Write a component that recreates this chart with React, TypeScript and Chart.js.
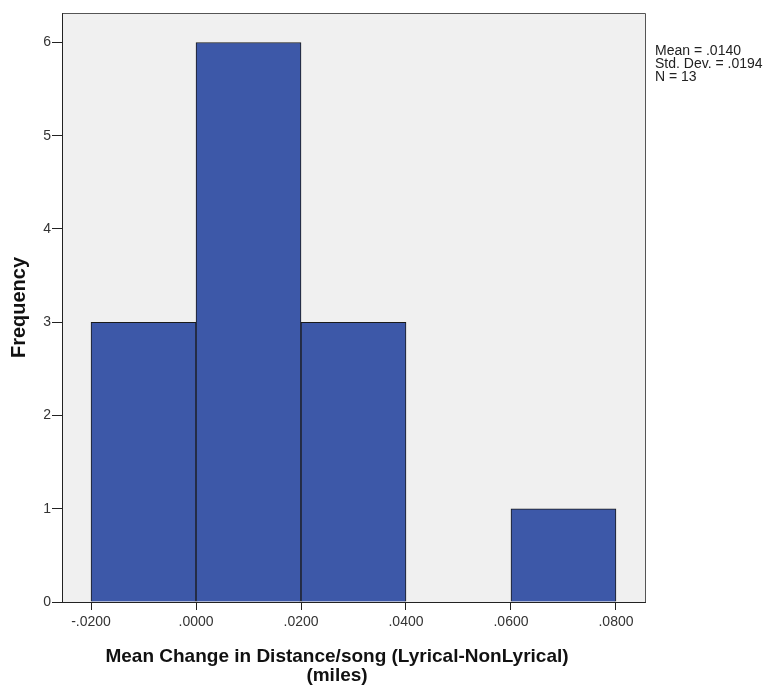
import React, { useEffect, useRef } from "react";
import { Chart, registerables } from "chart.js";

Chart.register(...registerables);

// Histogram bins (edges) and frequencies
const binStarts = [-0.02, 0.0, 0.02, 0.04, 0.06];
const binEnds = [0.0, 0.02, 0.04, 0.06, 0.08];
const frequencies = [3, 6, 3, 0, 1];

const xTickValues = [-0.02, 0.0, 0.02, 0.04, 0.06, 0.08];
const yTickValues = [0, 1, 2, 3, 4, 5, 6];

const statLines = ["Mean = .0140", "Std. Dev. = .0194", "N = 13"];
const xTitleLines = ["Mean Change in Distance/song (Lyrical-NonLyrical)", "(miles)"];
const yTitle = "Frequency";

const FONT = "'Liberation Sans', Arial, sans-serif";

function fmtTick(v: number): string {
  const s = (Math.abs(v) < 1e-9 ? 0 : v).toFixed(4);
  return s.replace("0.", ".");
}

export default function App() {
  const ref = useRef<HTMLCanvasElement | null>(null);

  useEffect(() => {
    document.body.style.margin = "0";
    const canvas = ref.current;
    if (!canvas) return;

    const points = binStarts
      .map((s, i) => ({ x: (s + binEnds[i]) / 2, y: frequencies[i] }))
      .filter((p) => p.y > 0);

    const bgPlugin = {
      id: "plotBg",
      beforeDraw(chart: any) {
        const { ctx, chartArea: a } = chart;
        ctx.save();
        ctx.fillStyle = "#f0f0f0";
        ctx.fillRect(a.left, a.top, a.right - a.left, a.bottom - a.top);
        ctx.restore();
      },
      afterDatasetsDraw(chart: any) {
        const { ctx, chartArea: a } = chart;
        ctx.save();
        ctx.strokeStyle = "#555";
        ctx.lineWidth = 1;
        ctx.beginPath();
        ctx.moveTo(a.left + 0.5, a.top + 0.5);
        ctx.lineTo(a.right + 0.5, a.top + 0.5);
        ctx.lineTo(a.right + 0.5, a.bottom + 0.5);
        ctx.stroke();
        ctx.strokeStyle = "#222";
        ctx.beginPath();
        ctx.moveTo(a.left + 0.5, a.top + 0.5);
        ctx.lineTo(a.left + 0.5, a.bottom + 0.5);
        ctx.lineTo(a.right + 0.5, a.bottom + 0.5);
        ctx.stroke();

        // statistics
        ctx.fillStyle = "#222";
        ctx.font = `14px ${FONT}`;
        ctx.textAlign = "left";
        ctx.textBaseline = "alphabetic";
        statLines.forEach((t, i) => ctx.fillText(t, a.right + 10, 54.5 + i * 13));

        // x title
        ctx.fillStyle = "#111";
        ctx.font = `bold 19px ${FONT}`;
        ctx.textAlign = "center";
        const cx = 337;
        xTitleLines.forEach((t, i) => ctx.fillText(t, cx, 662 + i * 19));
        ctx.restore();
      },
    };

    const chart = new Chart(canvas, {
      type: "bar",
      data: {
        datasets: [
          {
            data: points,
            backgroundColor: "#3d58a8",
            borderColor: "#1a1a1a",
            borderWidth: 1,
            barPercentage: 1,
            categoryPercentage: 1,
          },
        ],
      },
      options: {
        animation: false,
        responsive: false,
        devicePixelRatio: 1,
        layout: { padding: { left: 0, right: 125, top: 13, bottom: 0 } },
        plugins: { legend: { display: false }, tooltip: { enabled: false } },
        scales: {
          x: {
            type: "linear",
            min: -0.02553,
            max: 0.08553,
            offset: false,
            afterBuildTicks: (s: any) => {
              s.ticks = xTickValues.map((v) => ({ value: v }));
            },
            afterFit: (s: any) => {
              s.height = 85;
            },
            ticks: {
              callback: (v: any) => fmtTick(Number(v)),
              font: { family: FONT, size: 14 },
              color: "#333",
              padding: 4,
              maxRotation: 0,
              autoSkip: false,
            },
            grid: {
              display: true,
              drawOnChartArea: false,
              drawTicks: true,
              tickLength: 8,
              tickColor: "#222",
              offset: false,
            },
            border: { display: true, color: "#222" },
          },
          y: {
            type: "linear",
            min: 0,
            max: 6.316,
            afterBuildTicks: (s: any) => {
              s.ticks = yTickValues.map((v) => ({ value: v }));
            },
            afterFit: (s: any) => {
              s.width = 62;
            },
            ticks: {
              font: { family: FONT, size: 14 },
              color: "#333",
              padding: 1,
            },
            grid: {
              display: true,
              drawOnChartArea: false,
              drawTicks: true,
              tickLength: 10,
              tickColor: "#222",
            },
            border: { display: true, color: "#222" },
            title: {
              display: true,
              text: yTitle,
              color: "#111",
              font: { family: FONT, size: 20, weight: "bold" },
              padding: { top: 7, bottom: 0 },
            },
          },
        },
      },
      plugins: [bgPlugin],
    });

    return () => chart.destroy();
  }, []);

  return <canvas ref={ref} width={770} height={687} style={{ display: "block" }} />;
}
